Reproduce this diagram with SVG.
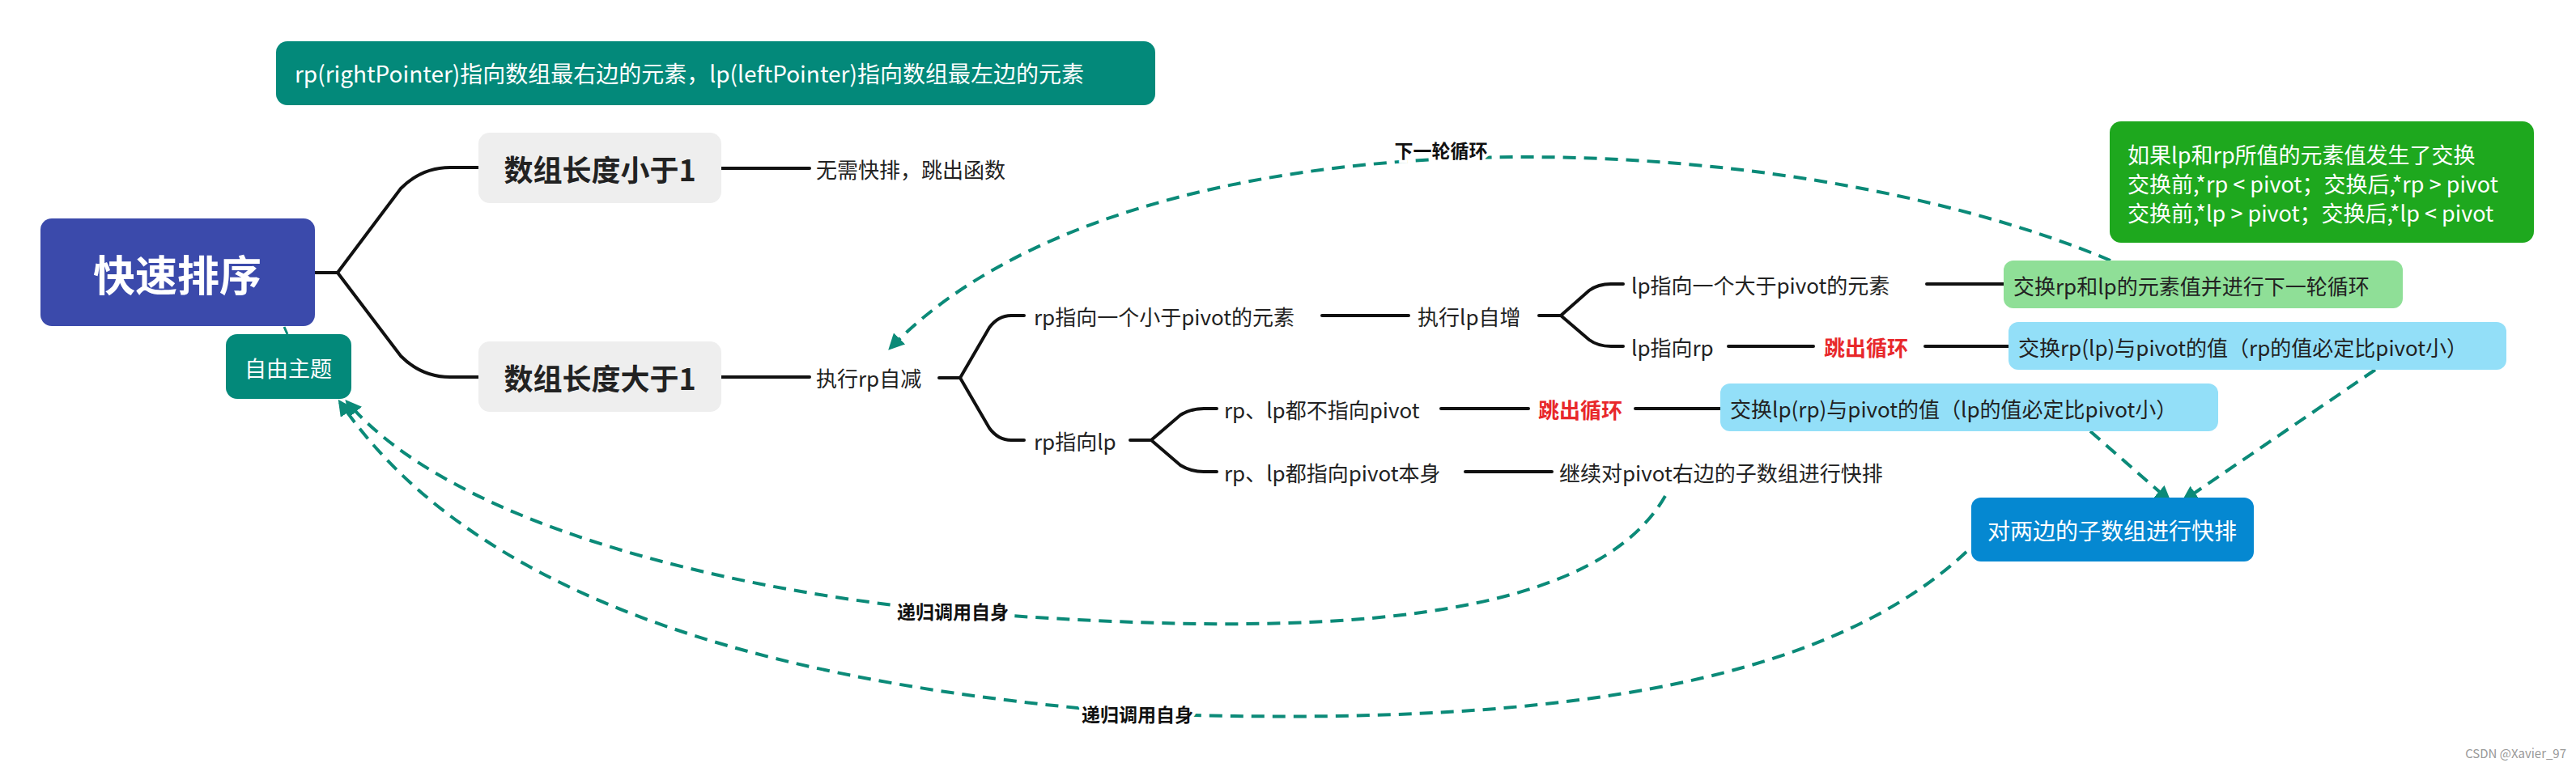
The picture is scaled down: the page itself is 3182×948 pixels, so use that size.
<svg xmlns="http://www.w3.org/2000/svg" width="3182" height="948" viewBox="0 0 3182 948">
<style>
text{font-family:"Noto Sans CJK SC","Noto Sans",sans-serif;dominant-baseline:central;fill:#222}
.t{font-size:26px}
.b{font-size:36px;font-weight:bold;fill:#222}
.w{fill:#fff}
.red{font-size:26px;font-weight:bold;fill:#e8282b}
.br{fill:none;stroke:#111;stroke-width:4;stroke-linecap:round}
.dash{fill:none;stroke:#0b8a78;stroke-width:4;stroke-dasharray:16 10}
.lbl{font-size:23px;font-weight:bold;fill:#111;stroke:#fff;stroke-width:8;paint-order:stroke}
</style>
<defs>
<marker id="ah" viewBox="0 0 10 10" refX="8" refY="5" markerWidth="5" markerHeight="5" orient="auto-start-reverse"><path d="M0,0 L10,5 L0,10 z" fill="#0b8a78"/></marker>
</defs>
<rect width="3182" height="948" fill="#fff"/>
<g id="connectors">
<path class="br" d="M389,337 L417,337 L495,233 Q521,207 556,207 L591,207"/>
<path class="br" d="M417,337 L495,440 Q521,466 556,466 L591,466"/>
<path class="br" d="M891,208 L1000,208"/>
<path class="br" d="M891,466 L1000,466"/>
<path class="br" d="M1160,467 L1186,467 L1222,405 Q1233,390 1249,390 L1265,390"/>
<path class="br" d="M1186,467 L1222,529 Q1233,544 1249,544 L1265,544"/>
<path class="br" d="M1633,390 L1740,390"/>
<path class="br" d="M1901,390 L1928,390 L1963,359 Q1974,351 1990,351 L2005,351"/>
<path class="br" d="M1928,390 L1963,420 Q1974,428 1990,428 L2005,428"/>
<path class="br" d="M2380,351 L2475,351"/>
<path class="br" d="M2135,428 L2240,428"/>
<path class="br" d="M2378,428 L2481,428"/>
<path class="br" d="M1396,544 L1422,544 L1458,513 Q1471,505 1487,505 L1503,505"/>
<path class="br" d="M1422,544 L1458,575 Q1471,583 1487,583 L1503,583"/>
<path class="br" d="M1780,505 L1888,505"/>
<path class="br" d="M2020,505 L2125,505"/>
<path class="br" d="M1810,583 L1917,583"/>
<path d="M351,404 L355,413" stroke="#0b8a78" stroke-width="3"/>
<path class="dash" marker-end="url(#ah)" d="M2607,322 C2200,150 1400,120 1100,430"/>
<path class="dash" marker-end="url(#ah)" d="M2582,533 L2679,618"/>
<path class="dash" marker-end="url(#ah)" d="M2934,457 L2698,618"/>
<path class="dash" d="M2057,613 C1950,800 1500,780 1177,756"/>
<path class="dash" marker-end="url(#ah)" d="M1177,756 C900,730 560,650 429,497"/>
<path class="dash" d="M2429,682 C2250,850 1900,900 1411,882"/>
<path class="dash" marker-end="url(#ah)" d="M1411,882 C1000,850 600,760 420,497"/>
<text class="lbl" x="1780" y="185" text-anchor="middle">下一轮循环</text>
<text class="lbl" x="1177" y="755" text-anchor="middle">递归调用自身</text>
<text class="lbl" x="1405" y="882" text-anchor="middle">递归调用自身</text>
</g>
<g id="note"><rect x="341" y="51" width="1086" height="79" rx="14" fill="#03897a"/><text class="w" x="364" y="90" font-size="28">rp(rightPointer)指向数组最右边的元素，lp(leftPointer)指向数组最左边的元素</text></g>
<g id="root"><rect x="50" y="270" width="339" height="133" rx="14" fill="#3b4aab"/><text class="w" x="219" y="337" font-size="52" font-weight="bold" text-anchor="middle">快速排序</text></g>
<g id="topic"><rect x="279" y="413" width="155" height="80" rx="14" fill="#03897a"/><text class="w" x="356" y="454" font-size="27" text-anchor="middle">自由主题</text></g>
<g id="lt1"><rect x="591" y="164" width="300" height="87" rx="14" fill="#eeeeee"/><text class="b" x="741" y="208" text-anchor="middle">数组长度小于1</text></g>
<g id="gt1"><rect x="591" y="422" width="300" height="87" rx="14" fill="#eeeeee"/><text class="b" x="741" y="466" text-anchor="middle">数组长度大于1</text></g>
<g id="n1"><text class="t" x="1008" y="208">无需快排，跳出函数</text></g>
<g id="n2"><text class="t" x="1008" y="466">执行rp自减</text></g>
<g id="n3"><text class="t" x="1277" y="390">rp指向一个小于pivot的元素</text></g>
<g id="n4"><text class="t" x="1751" y="390">执行lp自增</text></g>
<g id="n5"><text class="t" x="2015" y="351">lp指向一个大于pivot的元素</text></g>
<g id="n6"><text class="t" x="2015" y="428">lp指向rp</text></g>
<g id="n7"><text class="red" x="2253" y="428">跳出循环</text></g>
<g id="n8"><text class="t" x="1277" y="544">rp指向lp</text></g>
<g id="n9"><text class="t" x="1512" y="505">rp、lp都不指向pivot</text></g>
<g id="n10"><text class="red" x="1900" y="505">跳出循环</text></g>
<g id="n11"><text class="t" x="1512" y="583">rp、lp都指向pivot本身</text></g>
<g id="n12"><text class="t" x="1926" y="583">继续对pivot右边的子数组进行快排</text></g>
<g id="g1"><rect x="2475" y="322" width="493" height="59" rx="12" fill="#8fdf97"/><text class="t" x="2487" y="352">交换rp和lp的元素值并进行下一轮循环</text></g>
<g id="b1"><rect x="2481" y="398" width="615" height="59" rx="12" fill="#93dff8"/><text class="t" x="2493" y="428">交换rp(lp)与pivot的值（rp的值必定比pivot小）</text></g>
<g id="b2"><rect x="2125" y="474" width="615" height="59" rx="12" fill="#93dff8"/><text class="t" x="2137" y="504">交换lp(rp)与pivot的值（lp的值必定比pivot小）</text></g>
<g id="sub"><rect x="2435" y="615" width="349" height="79" rx="12" fill="#0588d1"/><text class="w" x="2609" y="655" font-size="28" text-anchor="middle">对两边的子数组进行快排</text></g>
<g id="cond"><rect x="2606" y="150" width="524" height="150" rx="14" fill="#1ea81e"/>
<text class="w" x="2628" y="190" font-size="27">如果lp和rp所值的元素值发生了交换</text>
<text class="w" x="2628" y="226" font-size="27">交换前,*rp &lt; pivot；交换后,*rp &gt; pivot</text>
<text class="w" x="2628" y="262" font-size="27">交换前,*lp &gt; pivot；交换后,*lp &lt; pivot</text></g>
<text x="3170" y="930" font-size="15" text-anchor="end" style="fill:#999">CSDN @Xavier_97</text>
</svg>
